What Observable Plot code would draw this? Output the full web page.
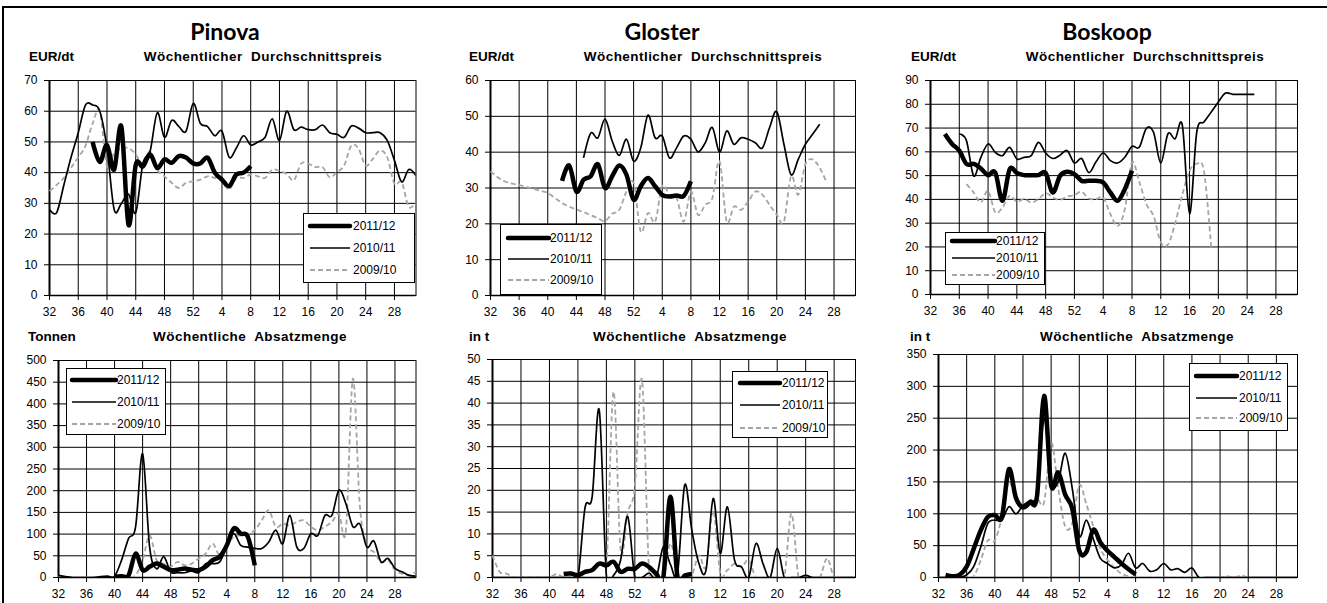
<!DOCTYPE html>
<html>
<head>
<meta charset="utf-8">
<script src="https://cdn.jsdelivr.net/npm/d3@7"></script>
<script src="https://cdn.jsdelivr.net/npm/@observablehq/plot@0.6"></script>
<style>
  body { margin: 0; background: #fff; }
  #root { position: relative; width: 1327px; height: 603px; overflow: hidden; background: #fff;
          font-family: "Liberation Sans", Arial, sans-serif; color: #000; }
  .frameL { position: absolute; left: 2px; top: 6px; width: 2px; height: 600px; background: #000; }
  .frameT { position: absolute; left: 2px; top: 6px; width: 1325px; height: 2px; background: #000; }
  .title { position: absolute; font-family: Lato, "Open Sans", sans-serif; font-weight: 700; font-size: 23px;
           transform: translate(-50%, -50%); line-height: 1; white-space: nowrap; }
  .unit { position: absolute; font-weight: 700; font-size: 13.5px; transform: translateY(-50%); line-height: 1; white-space: nowrap; }
  .sub { position: absolute; font-weight: 700; font-size: 13.5px; letter-spacing: 0.45px; transform: translate(-50%, -50%);
         line-height: 1; white-space: pre; }
  .panel { position: absolute; }
  .legend { position: absolute; box-sizing: border-box; border: 1px solid #000; background: #fff; }
  .legend .lab { position: absolute; font-size: 12px; line-height: 1; transform: translateY(-50%); white-space: nowrap; }
</style>
</head>
<body>
<div id="root">
  <div class="frameL"></div>
  <div class="frameT"></div>
</div>
<script>
// ---------- data ----------
const weeks = [32,33,34,35,36,37,38,39,40,41,42,43,44,45,46,47,48,49,50,51,52,
               1,2,3,4,5,6,7,8,9,10,11,12,13,14,15,16,17,18,19,20,21,22,23,24,25,26,27,28,29,30,31];
const tickWeeks = [32,36,40,44,48,52,4,8,12,16,20,24,28];
const seasons = ["2011/12", "2010/11", "2009/10"];
const varieties = ["Pinova", "Gloster", "Boskoop"];

// Pinova – weekly average price (EUR/dt)
const pinovaPrice1112Start = 38;
const pinovaPrice1112 = [50,43.5,49,41,55,23,42.5,42,46,41.5,44.3,43.2,45.4,44.9,43,43,44.9,40,37.7,35.6,39.4,40,42.1];
const pinovaPrice1011Start = 32;
const pinovaPrice1011 = [28,27,36,45,53,62,62,60,48,28,30,33,27,43,47,59.5,51.5,57,55,53.5,
                         62.5,56,55,52,53.5,45,48,52,49,50,51.5,57.5,50.5,60,54,54.8,54,54,55.5,53,
                         52.5,51.5,55.2,54.5,53,53,53,50.5,44,37,41,39];
const pinovaPrice0910Start = 32;
const pinovaPrice0910 = [34,36,38.3,41.6,45,48.7,56,60,42,46.5,47.8,48,46,42.7,47,41,38.8,36.7,35,36.7,
                         37.2,37.7,38.8,38.3,37.2,34.5,38.3,38.3,39.4,38.8,38.3,41,40.5,39.6,37.5,42.9,42.9,41.8,41.8,38.5,
                         40.2,42.3,48.8,47.8,42.3,44.5,47.2,45,36.4,36.9,28.8,30.4];

// Pinova – weekly sales volume (Tonnen)
const pinovaVol1112Start = 40;
const pinovaVol1112 = [2,3,5,55,17,25,32,25,17,18,21,18,17,25,40,48,74,113,101,94,28];
const pinovaVol1011Start = 32;
const pinovaVol1011 = [5,2,0,0,0,0,2,3,3,40,90,117,285,70,20,48,13,11,11,15,
                       11,32,32,36,70,101,74,70,67,67,82,109,78,143,70,67,101,97,143,143,
                       201,170,117,123,70,84,36,44,21,13,5,3];
const pinovaVol0910Start = 32;
const pinovaVol0910 = [3,1,0,0,0,0,0,0,0,0,0,5,40,97,40,32,25,36,28,32,
                       44,55,78,51,74,94,97,101,109,132,155,117,124,120,128,132,117,109,117,128,
                       147,109,458,163,74,59,36,40,17,9,5,13];

// Gloster – weekly average price (EUR/dt)
const glosterPrice1112Start = 42;
const glosterPrice1112 = [32,36.3,29,32.3,33.3,36.6,30,33.3,36.3,33.7,26.7,30.5,32.8,30.5,28.1,27.6,27.9,27.8,31.9];
const glosterPrice1011Start = 45;
const glosterPrice1011 = [38.4,45.3,44,49.2,43.1,39.1,43.6,37.5,41.2,50.3,44,44.5,38.4,41.2,44.5,43.6,40.1,42.6,46.9,40,
                          45.9,42.2,44,43.6,42.6,41.2,46.9,51.3,42.2,33.7,38,42.2,45,47.8];
const glosterPrice0910Start = 32;
const glosterPrice0910 = [34.7,33,31.8,31.2,30.8,30.3,29.7,29.2,28.6,27.2,25.8,24.8,24,23.3,22.4,21.6,20.8,22.8,23.9,29,
                          31.4,17.8,23,20.6,30.5,28.1,27.2,20.6,29,22.5,25.3,27.2,37.5,20.6,24.8,23.9,26.2,29,28.1,25.3,
                          22.5,20.6,33.3,28.1,36.6,38,35.6,31.4];

// Gloster – weekly sales volume (t)
const glosterVol1112Start = 42;
const glosterVol1112 = [0.8,0.9,0.5,1.3,1.7,3.2,2.8,3.6,1.3,2,2,3.2,2.4,0.9,0.1,18.5,0,0.5,0.8];
const glosterVol1011Start = 32;
const glosterVol1011 = [0,0,0,0,0,0,0,0,0,0,0,0,0,16,18.5,38.4,0.5,0.5,4,14,
                        0,0,1,0,7,3,1,21.2,10.9,3.2,1.7,18.1,5.5,16.2,4,2.4,0,7.8,3.2,0,
                        6.7,0,0,0,0.5,0,0,0,0,0,0,0];
const glosterVol0910Start = 32;
const glosterVol0910 = [5.1,1.3,0.9,0,0,0,0,0,0,0.8,0,0,0.9,0,0,0,2,42.6,6.3,15,
                        20.8,45.3,1.7,1.3,0,7.8,1,0,0.5,5.1,2.4,15.4,1,1.7,3.2,2.4,4,0,0,0,
                        0,0,14.7,0,0,0,0,4.4,0,0,0,0];

// Boskoop – weekly average price (EUR/dt)
const boskoopPrice1112Start = 34;
const boskoopPrice1112 = [67.5,63.3,60.5,54.9,54.9,53,50.2,51.3,39.4,52.7,51.1,50.2,50.2,50.2,51.1,42.9,49.9,51.6,50.6,47.8,
                          47.8,47.8,47.1,42.9,39.4,44.3,52];
const boskoopPrice1011Start = 36;
const boskoopPrice1011 = [67.5,64.7,49.9,57.7,63.3,59.8,58.4,61.9,57,57.7,58.4,64,59.5,57.2,58.6,60.5,55.3,57.2,51.3,55.8,
                          59.5,56.3,55.3,57.7,62.3,61.9,69.9,68.2,55.3,67.6,65.5,71.1,34,68.3,72.5,76.7,81,84.7,84.2,84.2,
                          84.2,84.2];
const boskoopPrice0910Start = 37;
const boskoopPrice0910 = [46.4,42.9,38.7,43.6,34.5,36.6,41.5,39,40.1,38.7,40.1,42.6,40.8,39.8,41.2,41.8,43.2,40.4,40.1,40.8,
                          33.8,28.8,35.9,55.5,47.5,38,33,22,21,30,42,52,55,52,20];

// Boskoop – weekly sales volume (t)
const boskoopVol1112Start = 33;
const boskoopVol1112 = [4,2,4,17,45,74,95,98,95,170,125,110,118,128,285,145,165,130,108,42,
                        40,75,55,42,32,22,13,5];
const boskoopVol1011Start = 32;
const boskoopVol1011 = [0,0,0,0,4,17,48,85,90,90,111,100,113,121,132,250,150,150,195,140,
                        65,90,60,30,22,15,20,38,15,22,10,12,22,12,14,8,15,0,0,0,
                        0,0,0,0,0,0,0,0,0,0,0,0];
const boskoopVol0910Start = 32;
const boskoopVol0910 = [0,0,0,0,0,2,27,58,58,95,150,121,111,116,124,118,212,140,80,85,
                        145,115,80,45,28,15,6,2,0,0,0,0,0,0,0,0,0,0,0,0,
                        0,2,0,3,0,0,0,0,0,0,0,0];

// ---------- build ----------
function rows(startWeek, values) {
  const s = weeks.indexOf(startWeek);
  return weeks.map((w, i) => {
    const k = i - s;
    return {i, v: (k >= 0 && k < values.length) ? values[k] : null};
  });
}
const tickIdx = tickWeeks.map(w => weeks.indexOf(w));
const styles = [
  {stroke: "#000", strokeWidth: 4.5, dash: null},
  {stroke: "#000", strokeWidth: 1.7, dash: null},
  {stroke: "#a6a6a6", strokeWidth: 1.8, dash: "5,3"}
];

const panels = [
  {unit: "EUR/dt", sub: "Wöchentlicher  Durchschnittspreis", ymax: 70, ystep: 10,
   series: [[pinovaPrice1112Start, pinovaPrice1112],[pinovaPrice1011Start, pinovaPrice1011],[pinovaPrice0910Start, pinovaPrice0910]],
   box: {l: 48.5, r: 415, t: 80, b: 295}, unitX: 29, unitY: 57, subX: 263, subY: 57,
   legend: {l: 303, t: 213, w: 112, h: 70, rows: [13, 35, 57], x1: 7, x2: 47, tx: 50}},
  {unit: "EUR/dt", sub: "Wöchentlicher  Durchschnittspreis", ymax: 60, ystep: 10,
   series: [[glosterPrice1112Start, glosterPrice1112],[glosterPrice1011Start, glosterPrice1011],[glosterPrice0910Start, glosterPrice0910]],
   box: {l: 490, r: 855, t: 80, b: 295}, unitX: 469, unitY: 57, subX: 703, subY: 57,
   legend: {l: 500, t: 224, w: 102, h: 71, rows: [14, 35, 56], x1: 8, x2: 49, tx: 50}},
  {unit: "EUR/dt", sub: "Wöchentlicher  Durchschnittspreis", ymax: 90, ystep: 10,
   series: [[boskoopPrice1112Start, boskoopPrice1112],[boskoopPrice1011Start, boskoopPrice1011],[boskoopPrice0910Start, boskoopPrice0910]],
   box: {l: 930, r: 1297, t: 80, b: 294}, unitX: 911, unitY: 57, subX: 1145, subY: 57,
   legend: {l: 945, t: 232, w: 100, h: 53, rows: [9, 26, 43], x1: 7, x2: 50, tx: 51}},
  {unit: "Tonnen", sub: "Wöchentliche  Absatzmenge", ymax: 500, ystep: 50,
   series: [[pinovaVol1112Start, pinovaVol1112],[pinovaVol1011Start, pinovaVol1011],[pinovaVol0910Start, pinovaVol0910]],
   box: {l: 57.5, r: 415, t: 360, b: 577}, unitX: 28, unitY: 337, subX: 250, subY: 337,
   legend: {l: 66, t: 368, w: 100, h: 67, rows: [12, 34, 56], x1: 6, x2: 50, tx: 51}},
  {unit: "in t", sub: "Wöchentliche  Absatzmenge", ymax: 50, ystep: 5,
   series: [[glosterVol1112Start, glosterVol1112],[glosterVol1011Start, glosterVol1011],[glosterVol0910Start, glosterVol0910]],
   box: {l: 492, r: 855, t: 359, b: 577}, unitX: 469, unitY: 337, subX: 690, subY: 337,
   legend: {l: 732, t: 371, w: 96, h: 67, rows: [12, 34, 57], x1: 8, x2: 48, tx: 50}},
  {unit: "in t", sub: "Wöchentliche  Absatzmenge", ymax: 350, ystep: 50,
   series: [[boskoopVol1112Start, boskoopVol1112],[boskoopVol1011Start, boskoopVol1011],[boskoopVol0910Start, boskoopVol0910]],
   box: {l: 938, r: 1297, t: 354, b: 577}, unitX: 910, unitY: 337, subX: 1137, subY: 337,
   legend: {l: 1189, t: 363, w: 99, h: 68, rows: [13, 35, 55], x1: 7, x2: 48, tx: 50}}
];
const titlePos = [[225, 31], [662, 31], [1107, 31]];

const root = document.getElementById("root");
function addDiv(cls, text, left, top) {
  const d = document.createElement("div");
  d.className = cls; d.textContent = text;
  d.style.left = left + "px"; d.style.top = top + "px";
  root.appendChild(d); return d;
}
varieties.forEach((v, k) => addDiv("title", v, titlePos[k][0], titlePos[k][1]));

const ML = 45, MR = 8, MT = 8, MB = 28;
panels.forEach(p => {
  addDiv("unit", p.unit, p.unitX, p.unitY);
  addDiv("sub", p.sub, p.subX, p.subY);
  const yt = d3.range(0, p.ymax + 1e-9, p.ystep);
  const lineMarks = [2, 1, 0].map(k => {
    const st = styles[k];
    return Plot.line(rows(p.series[k][0], p.series[k][1]), {
      x: "i", y: "v", curve: "cardinal", tension: 0, stroke: st.stroke, strokeWidth: st.strokeWidth,
      strokeDasharray: st.dash, strokeLinejoin: "round", strokeLinecap: "butt", clip: true
    });
  });
  const chart = Plot.plot({
    width: p.box.r - p.box.l + ML + MR,
    height: p.box.b - p.box.t + MT + MB,
    marginLeft: ML, marginRight: MR, marginTop: MT, marginBottom: MB,
    style: {fontFamily: "'Liberation Sans', Arial, sans-serif", fontSize: "12px", color: "#000",
            background: "transparent", overflow: "visible"},
    x: {domain: [0, weeks.length - 1], ticks: tickIdx, tickFormat: i => weeks[i], tickSize: 5, tickPadding: 7, label: null},
    y: {domain: [0, p.ymax], ticks: yt, tickSize: 5, tickPadding: 7, label: null},
    marks: [
      Plot.gridX(tickIdx, {stroke: "#000", strokeOpacity: 1, strokeWidth: 1}),
      Plot.gridY(yt, {stroke: "#000", strokeOpacity: 1, strokeWidth: 1}),
      Plot.frame({stroke: "#000", strokeWidth: 1}),
      Plot.ruleX([0], {stroke: "#000", strokeWidth: 2}),
      Plot.ruleY([0], {stroke: "#000", strokeWidth: 1.5}),
      ...lineMarks
    ]
  });
  chart.classList.add("panel");
  chart.style.left = (p.box.l - ML) + "px";
  chart.style.top = (p.box.t - MT) + "px";
  root.appendChild(chart);

  // legend box
  const L = p.legend;
  const lg = document.createElement("div");
  lg.className = "legend";
  Object.assign(lg.style, {left: L.l + "px", top: L.t + "px", width: L.w + "px", height: L.h + "px"});
  seasons.forEach((s, k) => {
    const st = styles[k];
    const svg = d3.create("svg").attr("width", L.w).attr("height", 10)
      .style("position", "absolute").style("left", "-1px").style("top", (L.rows[k] - 6) + "px");
    svg.append("line").attr("x1", L.x1).attr("x2", L.x2).attr("y1", 5).attr("y2", 5)
      .attr("stroke", st.stroke).attr("stroke-width", st.strokeWidth)
      .attr("stroke-dasharray", st.dash).attr("stroke-linecap", k === 0 ? "round" : "butt");
    lg.appendChild(svg.node());
    const t = document.createElement("div");
    t.className = "lab"; t.textContent = s;
    t.style.left = (L.tx - 1) + "px"; t.style.top = (L.rows[k] - 1) + "px";
    lg.appendChild(t);
  });
  root.appendChild(lg);
});
</script>
</body>
</html>
